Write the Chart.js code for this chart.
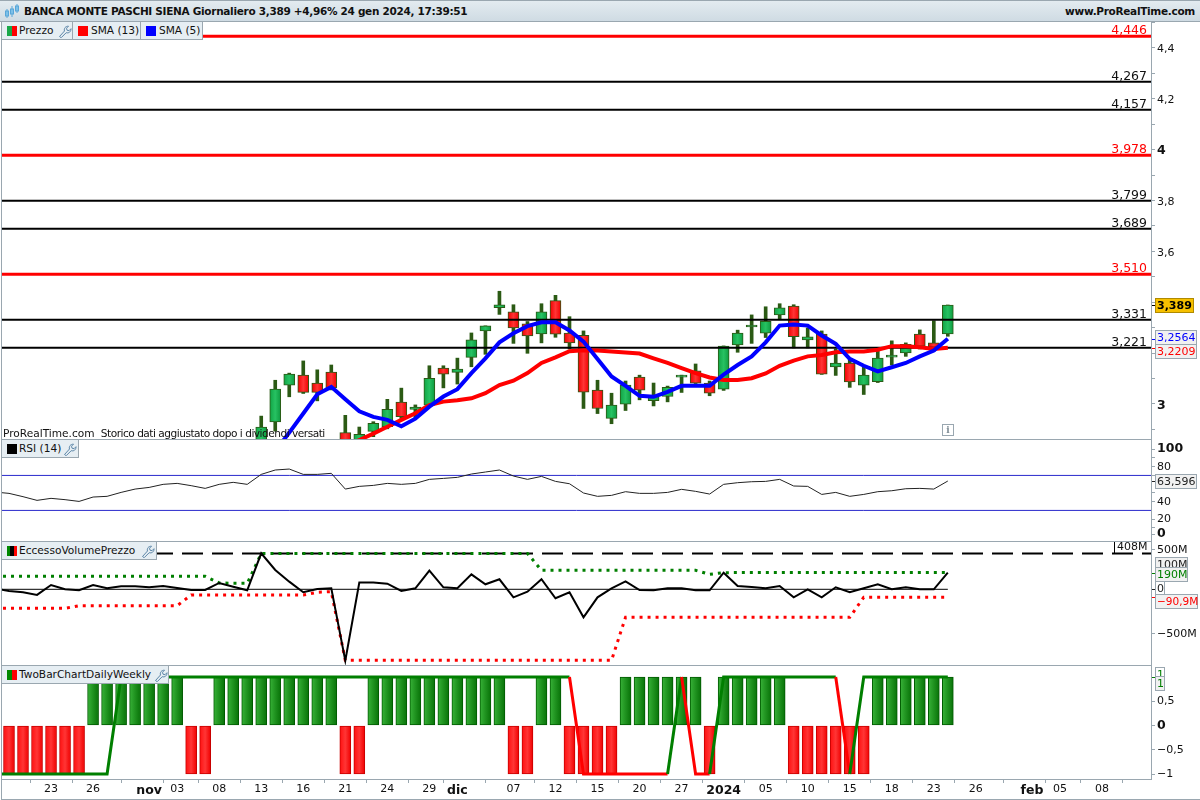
<!DOCTYPE html>
<html lang="it"><head><meta charset="utf-8"><title>BANCA MONTE PASCHI SIENA</title>
<script src="https://cdn.jsdelivr.net/npm/chart.js@4/dist/chart.umd.min.js"></script>
<style>
html,body{margin:0;padding:0;background:#fff;width:1200px;height:800px;overflow:hidden;font-family:"DejaVu Sans",sans-serif;color:#111}
canvas{position:absolute;left:0}
.hdr{position:absolute;left:0;top:0;width:1200px;background:linear-gradient(#e3ebf0,#cfdbe3);border-top:1px solid #9aa7b0;border-bottom:1px solid #9aa7b0;box-sizing:border-box;height:22px;font-weight:bold;font-size:10.5px;letter-spacing:-.3px;line-height:21px;white-space:nowrap}
.hdr .l{position:absolute;left:24px;top:0}.hdr .r{position:absolute;right:5px;top:0}
.chip{position:absolute;height:18px;box-sizing:border-box;background:#e6eef3;border:1px solid #9aa7b0;border-top:none;border-left:none;font-size:10.6px;line-height:17px;white-space:nowrap;z-index:5}
.chip i{position:absolute;left:5px;top:4px;width:10px;height:10px;display:block}
.chip span{position:absolute;left:17px;top:0}
.chip svg{position:absolute;top:2px}
.ln{position:absolute;background:#9aa7b0;z-index:4}
.note{position:absolute;left:3px;top:426px;font-size:10.6px;line-height:14px;white-space:pre;z-index:5}
.note b{font-weight:normal;letter-spacing:-.5px}
.info{position:absolute;left:942px;top:424px;width:12px;height:12px;box-sizing:border-box;border:1px solid #9aa7b0;color:#7d8a93;font:bold 9px/10px "DejaVu Serif",serif;text-align:center;z-index:5}
</style></head><body>
<div class="hdr"><svg style="position:absolute;left:4px;top:3px" width="16" height="15"><g stroke="#58a6d8" fill="#7cc0e8"><path d="M3 5v9M8 2v11M13 0v9"/><rect x="1.5" y="7" width="3" height="5"/><rect x="6.5" y="5" width="3" height="5"/><rect x="11.5" y="2" width="3" height="5"/></g></svg>
<span class="l">BANCA MONTE PASCHI SIENA Giornaliero 3,389 +4,96% 24 gen 2024, 17:39:51</span><span class="r">www.ProRealTime.com</span></div>

<div class="chip" style="left:2px;top:22px;width:71px"><i style="background:linear-gradient(90deg,#1aa84a 50%,#f00 50%)"></i><span>Prezzo</span><svg style="left:56px" width="14" height="14" viewBox="0 0 14 14"><path d="M1.5 12.500l5-5.500c-.8-2.500 1-5 4-4.800l-2 2 .5 2 2 .5 2-2c.2 3-2.300 4.800-4.800 4l-5 5z" fill="none" stroke="#5c86a8"/></svg></div>
<div class="chip" style="left:73px;top:22px;width:68px"><i style="background:#f00"></i><span style="left:18px">SMA (13)</span></div>
<div class="chip" style="left:141px;top:22px;width:62px"><i style="background:#00f"></i><span style="left:18px">SMA (5)</span></div>
<div class="chip" style="left:2px;top:440px;width:77px"><i style="background:#000"></i><span>RSI (14)</span><svg style="left:61px" width="14" height="14" viewBox="0 0 14 14"><path d="M1.5 12.500l5-5.500c-.8-2.500 1-5 4-4.800l-2 2 .5 2 2 .5 2-2c.2 3-2.300 4.800-4.800 4l-5 5z" fill="none" stroke="#5c86a8"/></svg></div>
<div class="chip" style="left:2px;top:542px;width:155px"><i style="background:linear-gradient(90deg,#080 33%,#000 33%,#000 66%,#f00 66%)"></i><span>EccessoVolumePrezzo</span><svg style="left:139px" width="14" height="14" viewBox="0 0 14 14"><path d="M1.5 12.500l5-5.500c-.8-2.500 1-5 4-4.800l-2 2 .5 2 2 .5 2-2c.2 3-2.300 4.800-4.800 4l-5 5z" fill="none" stroke="#5c86a8"/></svg></div>
<div class="chip" style="left:2px;top:666px;width:167px"><i style="background:linear-gradient(90deg,#080 50%,#f00 50%)"></i><span>TwoBarChartDailyWeekly</span><svg style="left:152px" width="14" height="14" viewBox="0 0 14 14"><path d="M1.5 12.500l5-5.500c-.8-2.500 1-5 4-4.800l-2 2 .5 2 2 .5 2-2c.2 3-2.300 4.800-4.800 4l-5 5z" fill="none" stroke="#5c86a8"/></svg></div>

<canvas id="cMain" width="1200" height="418" style="top:22px"></canvas>
<canvas id="cRsi" width="1200" height="102" style="top:440px"></canvas>
<canvas id="cEcc" width="1200" height="124" style="top:542px"></canvas>
<canvas id="cTwo" width="1200" height="134" style="top:666px"></canvas>

<div class="note">ProRealTime.com <b> Storico dati aggiustato dopo i dividendi versati</b></div>
<div class="info">i</div>
<div class="ln" style="left:1px;top:22px;width:1px;height:778px"></div>
<div class="ln" style="left:1151px;top:22px;width:1px;height:757px"></div>
<div class="ln" style="left:1px;top:439px;width:1151px;height:1px"></div>
<div class="ln" style="left:1px;top:541px;width:1151px;height:1px"></div>
<div class="ln" style="left:1px;top:665px;width:1151px;height:1px"></div>
<div class="ln" style="left:1px;top:779px;width:1151px;height:1px"></div>
<div class="ln" style="left:1px;top:799px;width:1199px;height:1px"></div>

<script>
// ---- data ----
const candleStart = 18;
const opens  = [2.85,2.929,3.074,3.113,3.082,3.125,2.887,2.85,2.892,2.910,3.007,2.978,2.995,3.141,3.124,3.183,3.287,3.378,3.362,3.315,3.275,3.406,3.279,3.270,3.054,2.943,2.999,3.105,3.013,3.029,3.105,3.130,3.082,3.058,3.232,3.303,3.278,3.350,3.385,3.252,3.275,3.145,3.161,3.074,3.087,3.184,3.200,3.275,3.240,3.275];
const closes = [2.909,3.058,3.117,3.045,3.045,3.063,2.85,2.880,2.924,2.979,2.950,2.987,3.101,3.117,3.137,3.252,3.307,3.390,3.299,3.267,3.362,3.274,3.240,3.046,2.982,2.995,3.074,3.054,3.029,3.065,3.113,3.082,3.042,3.227,3.279,3.310,3.325,3.378,3.264,3.264,3.117,3.161,3.086,3.113,3.180,3.192,3.234,3.227,3.216,3.389];
const highs  = [2.952,3.093,3.121,3.169,3.134,3.153,2.955,2.909,2.93,3.018,3.062,2.996,3.150,3.150,3.180,3.279,3.307,3.443,3.390,3.324,3.394,3.427,3.343,3.287,3.093,3.042,3.090,3.113,3.082,3.070,3.113,3.157,3.090,3.228,3.290,3.350,3.382,3.394,3.390,3.299,3.287,3.216,3.177,3.144,3.208,3.248,3.240,3.291,3.327,3.389];
const lows   = [2.83,2.893,3.028,3.041,3.012,3.055,2.84,2.84,2.871,2.902,2.943,2.946,2.989,3.063,3.078,3.146,3.195,3.352,3.238,3.199,3.240,3.262,3.216,2.982,2.962,2.922,2.974,3.016,2.992,3.008,3.045,3.080,3.032,3.053,3.203,3.238,3.261,3.331,3.220,3.220,3.116,3.112,3.065,3.037,3.084,3.153,3.187,3.216,3.208,3.266];
const sma5Start = 19;
const sma5 = [2.814,2.887,2.962,3.038,3.067,3.018,2.971,2.949,2.937,2.912,2.942,2.989,3.029,3.058,3.121,3.179,3.242,3.278,3.306,3.321,3.321,3.289,3.245,3.177,3.108,3.071,3.032,3.028,3.047,3.071,3.071,3.071,3.115,3.153,3.187,3.242,3.308,3.312,3.308,3.269,3.236,3.177,3.150,3.128,3.144,3.161,3.187,3.210,3.2564];
const sma13Start = 24;
const sma13 = [2.834,2.858,2.883,2.910,2.937,2.963,2.995,3.009,3.014,3.022,3.042,3.074,3.091,3.121,3.161,3.183,3.207,3.211,3.210,3.206,3.202,3.198,3.179,3.161,3.141,3.121,3.104,3.094,3.094,3.101,3.120,3.150,3.170,3.187,3.192,3.203,3.206,3.206,3.213,3.227,3.227,3.223,3.216,3.2209];
const redLevels = [4.446,3.978,3.510];
const blackLevels = [4.267,4.157,3.799,3.689,3.331,3.221];
// the three lower panels start one session before the first visible slot
const rsi = [51,49.5,45.7,41.5,43.8,42.3,40.3,45.3,46.1,50.6,54.4,56.3,59.8,60.9,58.3,55.2,59.8,62.1,59.8,71.2,76.2,77.3,71.2,71.2,72.4,54.4,57.5,58.6,60.9,59.8,60.9,65.5,66.6,67.8,71.6,73.9,76.2,69.3,65.5,68.9,63.2,60.5,49.9,46.1,47.2,51.4,49.5,49.5,50.6,54.1,51.8,48.7,59.8,61.7,62.8,63.2,65.5,57.9,57.5,48.3,50.6,46.1,48.3,51.4,52.5,54.8,55.2,54.4,63.596];
const rsiLevels = [70,30];
const eccVolume = [11,-19,-34,-64,49,0,-11,49,11,34,34,23,38,15,-8,-8,72,30,-11,409,220,87,-34,4,11,-810,76,76,64,-19,11,212,23,11,170,57,114,-91,-27,114,-102,-34,-318,-91,11,91,-8,-11,11,11,-11,-11,189,38,27,11,38,-91,0,-91,23,-34,11,57,0,23,0,0,190];
const eccUpper = [148,148,148,148,148,148,148,148,148,148,148,148,148,148,148,148,72,68,68,408,408,408,408,408,408,408,408,408,408,408,408,408,408,408,408,408,408,408,408,216,216,216,216,216,216,216,216,216,216,216,216,170,189,190,190,190,190,190,190,190,190,190,190,190,190,190,190,190,190];
const eccLower = [-216,-216,-216,-216,-216,-216,-186,-186,-186,-186,-186,-186,-186,-186,-64,-64,-64,-64,-64,-64,-64,-64,-64,-34,-27,-807,-807,-807,-807,-807,-807,-807,-807,-807,-807,-807,-807,-807,-807,-807,-807,-807,-807,-807,-807,-318,-318,-318,-318,-318,-318,-318,-318,-318,-318,-318,-318,-318,-318,-318,-318,-318,-90.9,-90.9,-90.9,-90.9,-90.9,-90.9,-90.9];
const eccCap = 408;
const twoBars = [-1,-1,-1,-1,-1,-1,1,1,1,1,1,1,1,-1,-1,1,1,1,1,1,1,1,1,1,-1,-1,1,1,1,1,1,1,1,1,1,1,-1,-1,1,1,-1,-1,-1,-1,1,1,1,1,1,1,-1,1,1,1,1,1,-1,-1,-1,-1,-1,-1,1,1,1,1,1,1];
const twoLine = [-1,-1,-1,-1,-1,-1,-1,-1,-1,1,1,1,1,1,1,1,1,1,1,1,1,1,1,1,1,1,1,1,1,1,1,1,1,1,1,1,1,1,1,1,1,1,-1,-1,-1,-1,-1,-1,-1,1,-1,-1,1,1,1,1,1,1,1,1,1,-1,1,1,1,1,1,1,1];
const twoLineRedSegments = [41,42,43,44,45,46,47,49,50,60];
const xTickIndex = [0,3,6,10,12,15,18,21,24,27,30,32,36,39,42,45,48,51,54,57,60,63,66,69,73,75,78,81];
const xTickText  = ['','23','26','nov','03','08','13','16','21','24','29','dic','07','12','15','20','27','2024','05','10','15','18','23','26','feb','05','08',''];
const xBold = ['nov','dic','2024','feb'];
const priceTicks = [2.9,3,3.1,3.2,3.3,3.4,3.5,3.6,3.7,3.8,3.9,4,4.1,4.2,4.3,4.4,4.5];
const priceLabels = [3,3.6,3.8,4,4.2,4.4];
const rsiTicks = [100,90,80,70,50,40,20,10,3];
const rsiTickText = {100:'100',80:'80',40:'40',20:'20',3:'0'};
const eccTicks = [455,-500];
const eccTickText = {455:'500M','-500':'−500M'};
const twoTicks = [0.5,0,-0.5,-1];
const twoTickText = {0.5:'0,5',0:'0','-0.5':'−0,5','-1':'−1'};

// ---- helpers ----
const FONT = '"DejaVu Sans",sans-serif';
const AXIS = '#9aa7b0';
const comma = v => String(v).replace('.',',');
const pts = (arr,start) => arr.map((v,i)=>({x:i+start,y:v}));
const fullWidth = v => [{x:-0.5,y:v},{x:81.5,y:v}];
// plot box of every panel runs from x=2 to x=1151
const slotPixel = v => 2 + (v+0.5)*(1149/82);
const noPad = s => {s.paddingLeft=0;s.paddingRight=0;s.paddingTop=0;s.paddingBottom=0};

function grad(c, stops, flat, half){
  if(c.type!=='data' || !c.raw) return flat;
  const px = slotPixel(c.raw.x);
  const g = c.chart.ctx.createLinearGradient(px-half,0,px+half,0);
  stops.forEach((s,i)=>g.addColorStop(i/(stops.length-1),s));
  return g;
}
const xAxisHidden = {type:'linear',min:-0.5,max:81.5,display:false,offset:false};
function yAxis(min,max,ticks,label,boldFn,labelOffset){
  return {type:'linear',position:'right',min,max,
    afterFit:s=>{s.width=49;noPad(s)},
    afterBuildTicks:s=>{s.ticks=ticks.map(v=>({value:v}))},
    border:{display:false},
    grid:{drawOnChartArea:false,drawTicks:true,tickLength:4,color:AXIS},
    ticks:{padding:2,autoSkip:false,color:'#111',callback:label,labelOffset:labelOffset||0,
      font:c=>{const b=c.tick&&boldFn&&boldFn(c.tick.value);return {family:FONT,size:b?12.5:11,weight:b?'bold':'normal'}}}};
}
function overlay(tags,extra){
  return {id:'overlay',afterDraw(chart){
    const ctx=chart.ctx, y=chart.scales.y;
    ctx.save();
    if(extra) extra(chart,ctx,y);
    tags.forEach(t=>{
      const py=y.getPixelForValue(t.value);
      ctx.strokeStyle=t.color;ctx.lineWidth=1;
      if(t.tick!==false){ctx.beginPath();ctx.moveTo(1152,Math.round(py)+.5);ctx.lineTo(1156,Math.round(py)+.5);ctx.stroke();}
      const cy=Math.round(py+t.dy)+.5;
      ctx.font=(t.bold?'bold ':'')+(t.size||11)+'px '+FONT;
      const w=t.w;
      ctx.fillStyle=t.bg;ctx.fillRect(1155.5,cy-7,w,14);
      ctx.strokeStyle=t.border||AXIS;ctx.strokeRect(1155.5,cy-7,w,14);
      ctx.fillStyle=t.color;ctx.textAlign='left';ctx.textBaseline='middle';
      ctx.fillText(t.text,1157,cy+.5);
    });
    ctx.restore();
  }};
}
const base = {responsive:false,animation:false,devicePixelRatio:1,events:[],
  layout:{padding:{left:2,right:0,top:0,bottom:0}},
  plugins:{legend:{display:false},tooltip:{enabled:false},title:{display:false}}};

// ---- price panel ----
const isUp = i => closes[i]>=opens[i];
const candleData = opens.map((o,i)=>({x:i+candleStart,y:[o,closes[i]]}));
const wickData = highs.map((h,i)=>({x:i+candleStart,y:[lows[i],h]}));
const levelSets = [
  ...blackLevels.map(v=>({type:'line',data:fullWidth(v),borderColor:'#000',borderWidth:2,pointRadius:0,order:3})),
  ...redLevels.map(v=>({type:'line',data:fullWidth(v),borderColor:'#f00',borderWidth:3,pointRadius:0,order:3}))
];
new Chart(document.getElementById('cMain'),{
  data:{datasets:[
    {type:'bar',data:wickData,barThickness:3,grouped:false,backgroundColor:'#2b5a14',order:6},
    {type:'bar',data:candleData,barThickness:11,grouped:false,borderColor:'#2b5a14',borderWidth:1,borderSkipped:false,order:5,
     backgroundColor:c=>{
       const up=c.type==='data'?isUp(c.dataIndex):true;
       return up?grad(c,['#10a445','#27c262','#0d9a40'],'#1aa84a',5.5):grad(c,['#f00000','#ff3535','#f00000'],'#f00',5.5);
     }},
    ...levelSets,
    {type:'line',data:pts(sma13,sma13Start),borderColor:'#f00',borderWidth:4,pointRadius:0,tension:0,order:2},
    {type:'line',data:pts(sma5,sma5Start),borderColor:'#00f',borderWidth:4,pointRadius:0,tension:0,order:1}
  ]},
  options:{...base,scales:{x:xAxisHidden,
    y:yAxis(2.858,4.502,priceTicks,v=>priceLabels.includes(v)?comma(v):'',v=>Number.isInteger(v),1.5)}},
  plugins:[overlay([
    {text:'3,389',value:3.389,dy:0,w:38,color:'#000',bg:'#f6c000',border:'#b08a00',bold:true},
    {text:'3,2564',value:3.2564,dy:-2,w:41,color:'#00f',bg:'#f1f1f1'},
    {text:'3,2209',value:3.2209,dy:3,w:41,color:'#f00',bg:'#f1f1f1'}
  ],(chart,ctx,y)=>{
    ctx.font='12.5px '+FONT;ctx.textAlign='right';ctx.textBaseline='alphabetic';
    [[blackLevels,'#111'],[redLevels,'#f00']].forEach(([arr,col])=>arr.forEach(v=>{
      ctx.fillStyle=col;ctx.fillText(comma(v.toFixed(3)),1147,y.getPixelForValue(v)-2);
    }));
  })]
});

// ---- RSI panel ----
new Chart(document.getElementById('cRsi'),{
  data:{datasets:[
    ...rsiLevels.map(v=>({type:'line',data:fullWidth(v),borderColor:'#2a2acc',borderWidth:1,pointRadius:0,order:2})),
    {type:'line',data:pts(rsi,-1),borderColor:'#222',borderWidth:1,pointRadius:0,tension:0,order:1}
  ]},
  options:{...base,scales:{x:xAxisHidden,
    y:yAxis(-6.1,110.5,rsiTicks,v=>rsiTickText[v]||'',v=>v===100||v===3)}},
  plugins:[overlay([{text:'63,596',value:63.596,dy:0,w:41,color:'#222',bg:'#f1f1f1'}])]
});

// ---- volume excess panel ----
new Chart(document.getElementById('cEcc'),{
  data:{datasets:[
    {type:'line',data:fullWidth(eccCap),borderColor:'#000',borderWidth:2,borderDash:[21,9],pointRadius:0,order:4},
    {type:'line',data:[{x:-0.5,y:0},{x:67,y:0}],borderColor:'#000',borderWidth:1,pointRadius:0,order:3},
    {type:'line',data:pts(eccUpper,-1),borderColor:'#007f00',borderWidth:3,borderDash:[3,5],pointRadius:0,tension:0,order:2},
    {type:'line',data:pts(eccLower,-1),borderColor:'#f00',borderWidth:3,borderDash:[3,5],pointRadius:0,tension:0,order:2},
    {type:'line',data:pts(eccVolume,-1),borderColor:'#000',borderWidth:2,pointRadius:0,tension:0,order:1}
  ]},
  options:{...base,scales:{x:xAxisHidden,
    y:yAxis(-871.6,537.5,eccTicks,v=>eccTickText[v]||'',()=>false,1)}},
  plugins:[overlay([
    {text:'100M',value:100,dy:-16.5,w:32,color:'#222',bg:'#f1f1f1',tick:false},
    {text:'0',value:0,dy:-1,w:9,color:'#222',bg:'#fff'},
    {text:'190M',value:190,dy:1.5,w:32,color:'#007f00',bg:'#f1f1f1'},
    {text:'−90,9M',value:-90.9,dy:3.5,w:42,size:10.5,color:'#f00',bg:'#f1f1f1'}
  ],(chart,ctx,y)=>{
    ctx.fillStyle='#fff';ctx.fillRect(1115,0,34,10);
    ctx.strokeStyle='#000';ctx.lineWidth=1;ctx.beginPath();ctx.moveTo(1114.5,0);ctx.lineTo(1114.5,y.getPixelForValue(eccCap));ctx.stroke();
    ctx.fillStyle='#111';ctx.font='11px '+FONT;ctx.textAlign='left';ctx.textBaseline='middle';
    ctx.fillText(eccCap+'M',1117,5);
  })]
});

// ---- two bar panel ----
new Chart(document.getElementById('cTwo'),{
  data:{datasets:[
    {type:'bar',data:pts(twoBars,0),barThickness:11,grouped:false,borderWidth:1,borderSkipped:false,order:2,
     borderColor:c=>c.type==='data'&&c.raw&&c.raw.y>0?'#005a00':'#c80000',
     backgroundColor:c=>c.type==='data'&&c.raw&&c.raw.y>0?grad(c,['#38b238','#1f921f','#087208'],'#080',5.5):grad(c,['#ff1010','#ff3535','#f00000'],'#f00',5.5)},
    {type:'line',data:pts(twoLine,-1),borderWidth:3,pointRadius:0,tension:0,order:1,borderColor:'#007f00',
     segment:{borderColor:c=>twoLineRedSegments.includes(c.p0DataIndex)?'#f00':'#007f00'}}
  ]},
  options:{...base,scales:{
    x:{type:'linear',min:-0.5,max:81.5,position:'bottom',offset:false,
      afterFit:s=>{s.height=21;noPad(s)},
      afterBuildTicks:s=>{s.ticks=xTickIndex.map(v=>({value:v}))},
      border:{display:false},
      grid:{drawOnChartArea:false,drawTicks:true,tickLength:4,color:AXIS},
      ticks:{autoSkip:false,maxRotation:0,minRotation:0,padding:0,color:'#111',includeBounds:false,
        callback:v=>{const k=xTickIndex.indexOf(v);return k<0?'':xTickText[k]},
        font:c=>{const k=c.tick?xTickIndex.indexOf(c.tick.value):-1;const b=k>=0&&xBold.includes(xTickText[k]);return {family:FONT,size:b?12.5:11,weight:b?'bold':'normal'}}}},
    y:yAxis(-1.103,1.227,twoTicks,v=>twoTickText[v]||'',v=>v===0)}},
  plugins:[overlay([
    {text:'1',value:1,dy:-3,w:9,color:'#007f00',bg:'#fff'},
    {text:'1',value:1,dy:6,w:9,color:'#007f00',bg:'#f1f1f1',tick:false}
  ])]
});
</script>
</body></html>
